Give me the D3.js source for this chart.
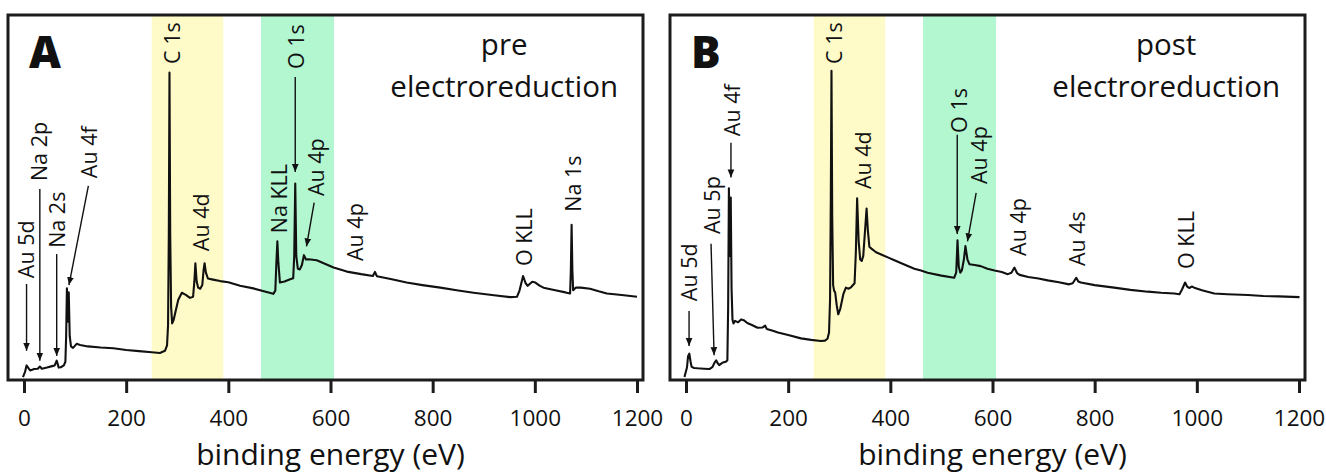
<!DOCTYPE html>
<html>
<head>
<meta charset="utf-8">
<script src="https://cdn.jsdelivr.net/npm/d3@7"></script>
<style>
  body { margin: 0; background: #fff; }
  svg { display: block; }
  text { font-family: "Open Sans", "Noto Sans", sans-serif; fill: #111; }
</style>
</head>
<body>
<svg id="chart" width="1326" height="476"></svg>
<script>
// XPS survey spectra of the Au electrode, before and after electroreduction.
// Intensities are in arbitrary units (0 = bottom of the frame, 100 = top).

const energyPre = [-2, 2, 5, 8, 12, 20, 27, 31, 35, 45, 55, 60, 64, 68, 72, 78, 81, 82.5, 84, 85.8, 87.6, 89.5, 92, 96, 103, 110, 125, 150, 175, 200, 225, 250, 266, 276, 280, 282, 283.5, 284.8, 286.2, 288, 290, 293, 297, 302, 309, 316, 325, 331, 333.5, 335.5, 338, 341, 345, 349, 351.5, 353.5, 356, 360, 370, 384, 400, 423, 449, 475, 488, 492, 494, 496, 498, 501, 510, 521, 527, 529, 531, 533, 536, 540, 544, 548, 552, 557, 573, 590, 606, 632, 660, 683, 687, 691, 720, 749, 780, 815, 850, 880, 920, 952, 965, 970, 977, 982, 986, 995, 1001, 1010, 1017, 1040, 1060, 1069, 1070.5, 1072, 1073.5, 1075, 1080, 1090, 1108, 1125, 1141, 1170, 1200];
const intensityPre = [0.8, 2.2, 4.0, 3.4, 2.6, 3.0, 3.1, 3.7, 3.1, 3.4, 3.8, 4.0, 5.3, 3.4, 3.5, 4.0, 5.0, 12, 25.1, 16, 24, 12, 9.2, 8.8, 9.9, 9.6, 9.2, 8.9, 8.7, 8.2, 7.9, 7.6, 7.4, 8.0, 9.5, 15, 40, 84.2, 40, 20, 15.5, 16.5, 19, 22, 23.9, 23.4, 22.5, 22.8, 27, 32.0, 27, 25.3, 25.0, 26, 30, 32.0, 29.5, 27.8, 27.5, 27.1, 26.8, 25.8, 25.1, 24.1, 23.6, 24.5, 32, 38.0, 32, 26.7, 27.0, 27.6, 27.9, 34, 53.8, 34, 30.5, 30.3, 31.5, 34.2, 33.0, 33.1, 32.8, 31.8, 30.8, 29.7, 29.0, 28.5, 29.6, 28.4, 27.6, 26.7, 26.0, 25.3, 24.5, 23.9, 23.2, 22.7, 22.8, 24.5, 28.5, 26.5, 25.8, 26.9, 26.7, 25.8, 25.3, 24.6, 24.0, 23.7, 30, 42.5, 30, 24.6, 25.3, 25.3, 25.0, 24.3, 23.7, 23.3, 22.8];

const energyPost = [-3, 2, 4, 6.5, 9, 11, 16, 23, 35, 46, 52, 56, 59, 62, 65, 69, 72, 78, 81, 82.5, 84, 85.8, 87.6, 89.2, 91, 93, 96, 102, 108, 113, 120, 130, 140, 150, 155, 158, 170, 180, 200, 225, 245, 264, 272, 277, 280, 282, 283.5, 284.8, 286.2, 288, 290, 292, 295, 298, 302, 308, 313, 318, 323, 330, 332.5, 335, 338, 341, 344, 347, 351, 353.5, 356, 359, 363, 372, 382, 395, 408, 425, 447, 460, 473, 500, 525, 529, 531.5, 534, 537, 540, 544, 547, 551, 555, 565, 577, 590, 604, 618, 630, 637, 643, 648, 653, 670, 690, 708, 730, 750, 757, 764, 768, 773, 800, 838, 870, 904, 930, 956, 966, 971, 977, 981, 985, 990, 995, 1010, 1034, 1060, 1100, 1130, 1160, 1201];
const intensityPost = [0.8, 3.5, 6.5, 7.2, 5.0, 3.6, 3.3, 3.2, 3.1, 3.0, 3.6, 4.8, 5.4, 4.6, 4.1, 4.5, 4.8, 5.0, 5.4, 20, 52.5, 34, 50, 25, 16.5, 15.5, 16.2, 15.8, 16.6, 16.4, 15.6, 15.0, 14.3, 14.4, 14.9, 14.0, 13.5, 13.0, 12.3, 11.4, 11.0, 10.7, 10.8, 11.3, 13, 22, 50, 84.7, 45, 26, 24.4, 24.0, 20.5, 18.0, 19.5, 23.5, 25.3, 25.0, 25.4, 26.5, 35, 49.8, 38, 33, 32.6, 34, 42, 47.0, 41, 36.5, 36.0, 35.0, 34.4, 33.6, 32.8, 31.8, 30.5, 30.0, 29.4, 28.6, 28.0, 29.5, 38.3, 31, 29.4, 30.0, 33, 36.7, 33, 31.7, 31.5, 31.2, 30.5, 30.0, 29.6, 29.0, 29.4, 30.8, 29.3, 28.8, 28.2, 27.8, 27.3, 26.8, 26.2, 26.5, 28.0, 27.0, 26.7, 26.0, 25.3, 24.7, 24.2, 23.9, 23.7, 23.5, 24.8, 26.7, 25.6, 25.2, 25.6, 25.3, 24.6, 23.7, 23.5, 23.3, 23.0, 22.9, 22.7];

const xTicks = [0, 200, 400, 600, 800, 1000, 1200];

// Highlighted binding-energy windows (eV): C 1s region and O 1s region
const bandRanges = [[250, 390], [464, 607]];
const bandFills = ["#fffbc9", "#b3f7d1"];

// Peak annotations: text, label centre (eV), label base (intensity), optional arrow [e1, v1, e2, v2]
const peaksPre = [
  { text: "Au 5d", e: 5, v: 27.9, arrow: [5, 26.3, 5, 8.0] },
  { text: "Na 2p", e: 31, v: 54.5, arrow: [31, 52.3, 31, 5.3] },
  { text: "Na 2s", e: 66, v: 36.2, arrow: [64, 34.5, 64, 6.6] },
  { text: "Au 4f", e: 129, v: 55.3, arrow: [126, 53.2, 88, 26.0] },
  { text: "C 1s", e: 290, v: 86.6 },
  { text: "Au 4d", e: 348, v: 35.3 },
  { text: "Na KLL", e: 500, v: 40.2 },
  { text: "O 1s", e: 534, v: 85.2, arrow: [531, 83.0, 531, 57.0] },
  { text: "Au 4p", e: 572, v: 50.4, arrow: [568, 48.6, 553, 36.6] },
  { text: "Au 4p", e: 648, v: 32.6 },
  { text: "O KLL", e: 979, v: 31.2 },
  { text: "Na 1s", e: 1075, v: 46.1 }
];
const peaksPost = [
  { text: "Au 5d", e: 6.5, v: 21.6, arrow: [6, 18.9, 6, 9.3] },
  { text: "Au 5p", e: 52, v: 40.0, arrow: [49, 37.3, 55, 6.8] },
  { text: "Au 4f", e: 91, v: 66.8, arrow: [88, 65.0, 88, 55.5] },
  { text: "C 1s", e: 290, v: 86.6 },
  { text: "Au 4d", e: 348, v: 52.3 },
  { text: "O 1s", e: 535, v: 67.7, arrow: [531, 67.2, 531, 40.0] },
  { text: "Au 4p", e: 574, v: 53.7, arrow: [568, 51.3, 551, 38.0] },
  { text: "Au 4p", e: 650, v: 34.0 },
  { text: "Au 4s", e: 767, v: 31.2 },
  { text: "O KLL", e: 979, v: 30.4 }
];

const panels = [
  { letter: "A", title: ["pre", "electroreduction"], energy: energyPre, intensity: intensityPre, peaks: peaksPre, left: 8 },
  { letter: "B", title: ["post", "electroreduction"], energy: energyPost, intensity: intensityPost, peaks: peaksPost, left: 670 }
];

const svg = d3.select("#chart");
svg.append("rect").attr("width", 1326).attr("height", 476).attr("fill", "#fff");

const frameW = 635, frameH = 365, frameTop = 15;

const defs = svg.append("defs");
defs.append("marker")
  .attr("id", "arrowhead")
  .attr("viewBox", "0 0 10 10")
  .attr("refX", 10).attr("refY", 5)
  .attr("markerUnits", "userSpaceOnUse")
  .attr("markerWidth", 8).attr("markerHeight", 8)
  .attr("orient", "auto")
  .append("path")
  .attr("d", "M0,0.8 L10,5 L0,9.2 Z")
  .attr("fill", "#111");

panels.forEach(p => {
  const g = svg.append("g").attr("transform", `translate(${p.left},${frameTop})`);
  const x = d3.scaleLinear().domain([0, 1200]).range([16, 629]);
  const y = d3.scaleLinear().domain([0, 100]).range([frameH, 0]);

  // shaded windows
  g.selectAll("rect.band")
    .data(bandRanges)
    .join("rect")
    .attr("class", "band")
    .attr("x", d => x(d[0]))
    .attr("width", d => x(d[1]) - x(d[0]))
    .attr("y", 0)
    .attr("height", frameH)
    .attr("fill", (d, i) => bandFills[i]);

  // spectrum
  const pts = p.energy.map((e, i) => [e, p.intensity[i]]);
  g.append("path")
    .datum(pts)
    .attr("fill", "none")
    .attr("stroke", "#111")
    .attr("stroke-width", 2.1)
    .attr("stroke-linejoin", "round")
    .attr("d", d3.line().x(d => x(d[0])).y(d => y(d[1])));

  // peak labels and arrows
  p.peaks.forEach(pk => {
    if (pk.arrow) {
      const [e1, v1, e2, v2] = pk.arrow;
      g.append("line")
        .attr("x1", x(e1)).attr("y1", y(v1))
        .attr("x2", x(e2)).attr("y2", y(v2))
        .attr("stroke", "#111")
        .attr("stroke-width", 1.4)
        .attr("marker-end", "url(#arrowhead)");
    }
    g.append("text")
      .attr("transform", `translate(${x(pk.e)},${y(pk.v)}) rotate(-90)`)
      .attr("dy", "0.35em")
      .attr("font-size", 21.5)
      .text(pk.text);
  });

  // frame
  g.append("rect")
    .attr("width", frameW).attr("height", frameH)
    .attr("fill", "none")
    .attr("stroke", "#1c1c1c")
    .attr("stroke-width", 3);

  // x axis
  const axis = g.append("g")
    .attr("transform", `translate(0,${frameH})`)
    .call(d3.axisBottom(x).tickValues(xTicks).tickSize(13).tickPadding(17).tickFormat(d3.format("d")));
  axis.select(".domain").remove();
  axis.selectAll(".tick line").attr("stroke", "#1c1c1c").attr("stroke-width", 3);
  axis.selectAll(".tick text")
    .attr("font-size", 22.5)
    .attr("font-family", "\"Open Sans\", \"Noto Sans\", sans-serif")
    .attr("fill", "#111");

  g.append("text")
    .attr("x", (x(0) + x(1200)) / 2)
    .attr("y", frameH + 85)
    .attr("text-anchor", "middle")
    .attr("font-size", 30)
    .text("binding energy (eV)");

  // panel letter
  g.append("text")
    .attr("x", 21)
    .attr("y", 53)
    .attr("font-size", 44)
    .attr("font-weight", 800)
    .attr("font-family", "\"Open Sans\", \"Liberation Sans\", sans-serif")
    .text(p.letter);

  // condition title
  p.title.forEach((line, i) => {
    g.append("text")
      .attr("x", x(940))
      .attr("y", y(i === 0 ? 89.0 : 77.5))
      .attr("text-anchor", "middle")
      .attr("font-size", 29.5)
      .text(line);
  });
});
</script>
</body>
</html>
